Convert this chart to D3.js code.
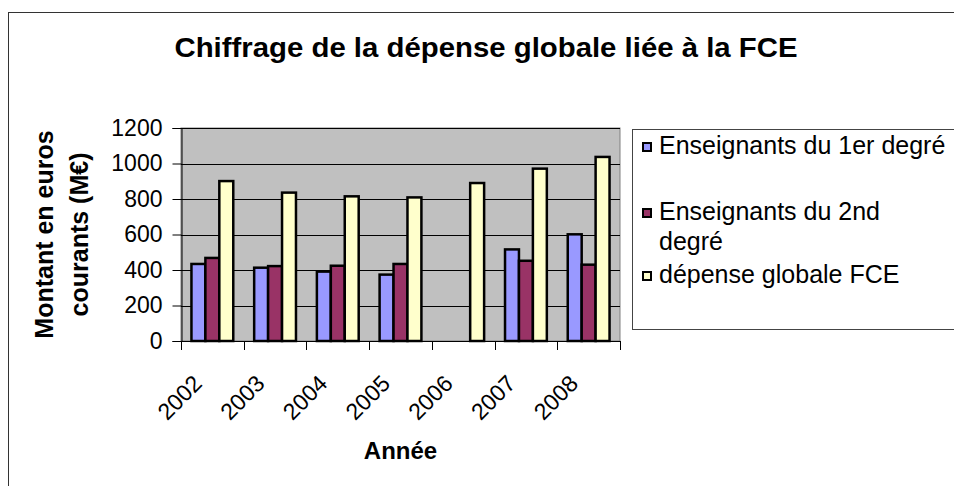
<!DOCTYPE html>
<html>
<head>
<meta charset="utf-8">
<script src="https://cdn.jsdelivr.net/npm/d3@7"></script>
<style>
    body { margin: 0; background: #fff; }
    svg text { font-family: "Liberation Sans", Arial, sans-serif; fill: #000; }
</style>
</head>
<body>
<svg id="fig" width="954" height="486"></svg>
<script>
const years = ['2002', '2003', '2004', '2005', '2006', '2007', '2008'];
const seriesNames = ['Enseignants du 1er degré', 'Enseignants du 2nd degré', 'dépense globale FCE'];
const premierDegre = [434, 413, 391, 374, null, 516, 601];
const secondDegre = [468, 422, 424, 434, null, 452, 430];
const depenseGlobale = [901, 836, 815, 809, 890, 971, 1037];
const yTicks = [0, 200, 400, 600, 800, 1000, 1200];
const colors = ['#9999ff', '#993366', '#ffffcc'];
const legendLines = [['Enseignants du 1er degré'], ['Enseignants du 2nd', 'degré'], ['dépense globale FCE']];

const allSeries = [premierDegre, secondDegre, depenseGlobale];

const svg = d3.select('#fig');

// chart area frame (runs off the right and bottom edges)
svg.append('rect')
    .attr('x', 8.5).attr('y', 12.5)
    .attr('width', 1000).attr('height', 600)
    .attr('fill', '#fff')
    .attr('stroke', '#333').attr('stroke-width', 1);

const plot = {left: 181, right: 620, top: 128, bottom: 341};

const x0 = d3.scaleBand()
    .domain(years)
    .range([plot.left, plot.right]);

// Excel style gap width 150 %
const gap = x0.bandwidth() * 0.75 / 4.5;
const x1 = d3.scaleBand()
    .domain(d3.range(allSeries.length))
    .range([gap, x0.bandwidth() - gap]);

const y = d3.scaleLinear()
    .domain([0, 1200])
    .range([plot.bottom, plot.top]);

// plot background
svg.append('rect')
    .attr('x', plot.left).attr('y', plot.top)
    .attr('width', plot.right - plot.left).attr('height', plot.bottom - plot.top)
    .attr('fill', '#c0c0c0')
    .attr('stroke', '#808080').attr('stroke-width', 1);

// gridlines
svg.append('g')
    .selectAll('line')
    .data(yTicks.filter(d => d > 0))
    .enter()
    .append('line')
    .attr('x1', plot.left).attr('x2', plot.right)
    .attr('y1', d => Math.round(y(d)) + 0.5)
    .attr('y2', d => Math.round(y(d)) + 0.5)
    .attr('stroke', '#000').attr('stroke-width', 1);

// bars
const groups = svg.append('g')
    .selectAll('g')
    .data(allSeries)
    .enter()
    .append('g')
    .attr('fill', (d, i) => colors[i]);

groups.each(function(values, si){
    d3.select(this)
        .selectAll('rect')
        .data(years.map((yr, i) => ({yr: yr, v: values[i]})).filter(d => d.v != null))
        .enter()
        .append('rect')
        .attr('x', d => x0(d.yr) + x1(si))
        .attr('width', x1.bandwidth())
        .attr('y', d => y(d.v))
        .attr('height', d => y(0) - y(d.v))
        .attr('stroke', '#000')
        .attr('stroke-width', 2.5);
});

// y axis
const yAxis = svg.append('g')
    .attr('transform', `translate(${plot.left + 0.5},0)`)
    .call(d3.axisLeft(y).tickValues(yTicks).tickFormat(d3.format('d')).tickSize(9).tickPadding(10));
yAxis.select('.domain').attr('stroke', '#000');
yAxis.selectAll('line').attr('stroke', '#000');
yAxis.selectAll('text')
    .attr('font-size', 23)
    .attr('font-family', '"Liberation Sans", Arial, sans-serif')
    .attr('fill', '#000');

// x axis with ticks at category boundaries
svg.append('line')
    .attr('x1', plot.left).attr('x2', plot.right)
    .attr('y1', plot.bottom + 0.5).attr('y2', plot.bottom + 0.5)
    .attr('stroke', '#000');

svg.append('g')
    .selectAll('line')
    .data(years.concat(['end']))
    .enter()
    .append('line')
    .attr('x1', (d, i) => Math.round(plot.left + i * x0.step()) + 0.5)
    .attr('x2', (d, i) => Math.round(plot.left + i * x0.step()) + 0.5)
    .attr('y1', plot.bottom)
    .attr('y2', plot.bottom + 9)
    .attr('stroke', '#000');

svg.append('g')
    .selectAll('text')
    .data(years)
    .enter()
    .append('text')
    .attr('font-size', 23)
    .attr('text-anchor', 'end')
    .attr('transform', d => `translate(${x0(d) + x0.bandwidth() / 2 - 9},385) rotate(-45)`)
    .text(d => d);

// axis titles
svg.append('text')
    .attr('x', (plot.left + plot.right) / 2)
    .attr('y', 459)
    .attr('text-anchor', 'middle')
    .attr('font-size', 24)
    .attr('font-weight', 'bold')
    .text('Année');

const yTitle = svg.append('text')
    .attr('transform', `translate(53,${(plot.top + plot.bottom) / 2}) rotate(-90)`)
    .attr('text-anchor', 'middle')
    .attr('font-size', 25)
    .attr('font-weight', 'bold');
yTitle.append('tspan').attr('x', 0).attr('y', 0).text('Montant en euros');
yTitle.append('tspan').attr('x', 0).attr('y', 35).text('courants (M€)');

// title
svg.append('text')
    .attr('x', 486)
    .attr('y', 57)
    .attr('text-anchor', 'middle')
    .attr('font-size', 28)
    .attr('font-weight', 'bold')
    .attr('textLength', 623)
    .attr('lengthAdjust', 'spacingAndGlyphs')
    .text('Chiffrage de la dépense globale liée à la FCE');

// legend
const legend = svg.append('g').attr('class', 'legend');
legend.append('rect')
    .attr('x', 632.5).attr('y', 129.5)
    .attr('width', 400).attr('height', 200)
    .attr('fill', '#fff')
    .attr('stroke', '#444').attr('stroke-width', 1);

const legendRows = [154, 220, 283];
const legendItems = legend.selectAll('g.item')
    .data(seriesNames)
    .enter()
    .append('g')
    .attr('class', 'item');

legendItems.append('rect')
    .attr('x', 643).attr('y', (d, i) => legendRows[i] - 11)
    .attr('width', 8).attr('height', 8)
    .attr('fill', (d, i) => colors[i])
    .attr('stroke', '#000').attr('stroke-width', 2);

legendItems.append('text')
    .attr('font-size', 25)
    .attr('y', (d, i) => legendRows[i])
    .selectAll('tspan')
    .data((d, i) => legendLines[i])
    .enter()
    .append('tspan')
    .attr('x', 659)
    .attr('dy', (d, j) => j === 0 ? 0 : 30)
    .text(d => d);
</script>
</body>
</html>
